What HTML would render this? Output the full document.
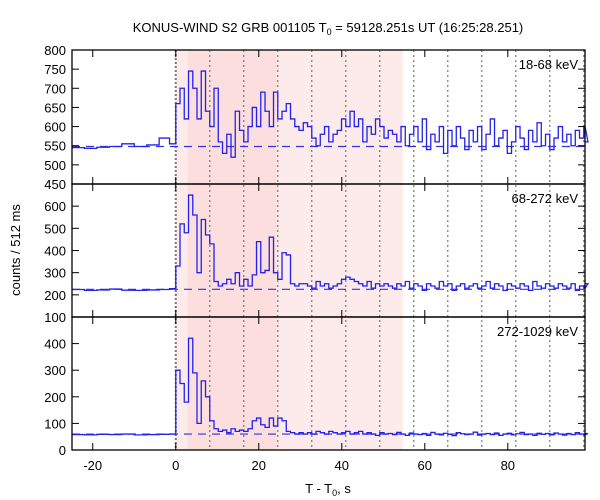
<!DOCTYPE html>
<html><head><meta charset="utf-8"><style>
body{margin:0;background:#fff}
svg{display:block;font-family:"Liberation Sans",sans-serif}
</style></head><body>
<svg id="c" width="600" height="500"></svg>
<script>
const preTimes=[-25,-22,-19,-16,-13,-10,-7,-4,-1.5];
const preTop=[545,543,546,548,555,548,552,570,555];
const preMid=[224,220,222,226,221,220,222,224,228];
const preBot=[58,57,59,58,60,57,58,59,60];
const binWidth=1.024;
const topVals=[660,700,620,745,700,620,745,640,600,700,560,530,580,520,640,590,560,600,650,600,690,640,600,690,620,640,660,620,600,590,610,600,570,550,580,600,560,580,590,620,600,640,600,620,560,600,580,620,600,570,590,580,560,600,550,580,600,560,620,540,580,560,600,530,590,550,600,570,540,590,560,600,540,580,620,550,570,590,530,560,600,570,540,590,560,610,550,580,540,570,600,560,580,550,590,570,600,560];
const midVals=[330,520,480,650,560,300,540,470,430,260,240,250,270,250,300,240,270,240,290,440,300,310,460,300,270,390,380,250,240,250,250,240,230,260,240,250,230,240,250,270,280,270,260,250,240,260,230,250,240,250,240,230,250,240,260,230,250,240,220,250,240,230,260,240,250,220,240,250,230,240,250,230,240,260,230,250,240,220,250,240,230,250,240,220,260,240,230,250,240,230,250,240,230,250,220,240,230,250];
const botVals=[300,250,180,420,290,100,260,200,110,80,70,75,65,80,70,75,70,80,110,120,95,85,120,90,120,110,70,65,60,65,60,65,60,70,65,60,70,65,60,65,70,60,65,70,60,65,60,55,65,60,62,58,66,60,55,64,60,58,62,55,66,60,57,63,59,54,65,61,58,60,67,56,60,62,58,64,55,60,63,57,61,66,58,60,55,63,59,62,57,64,60,56,62,58,65,60,57,62];
const bgLevels=[548,225,60];
const xTicks=[-20,0,20,40,60,80];
const yTicksSets=[[450,500,550,600,650,700,750,800],[100,200,300,400,500,600],[0,100,200,300,400]];
const yLabelSets=[[450,500,550,600,650,700,750,800],[100,200,300,400,500,600],[0,100,200,300,400]];
const panelNames=['18-68 keV','68-272 keV','272-1029 keV'];
const ranges=[[450,800],[100,700],[0,500]];
const X0=72,X1=585,TMIN=-25,TMAX=98.6;
const panelsY=[[50,184],[184,317],[317,450]];
const svg=document.getElementById('c');
const NS='http://www.w3.org/2000/svg';
function el(t,a,p){const e=document.createElementNS(NS,t);for(const k in a)e.setAttribute(k,a[k]);(p||svg).appendChild(e);return e;}
const xs=t=>X0+(t-TMIN)/(TMAX-TMIN)*(X1-X0);
let s1=el('rect',{x:xs(0),y:50,width:xs(54.7)-xs(0),height:400,fill:'#fdeaea'});


let s2=el('rect',{x:xs(2.9),y:50,width:xs(24.3)-xs(2.9),height:400,fill:'#fddede'});


for(let k=1;k*8.192<TMAX;k++){let l=el('line',{x1:xs(k*8.192),x2:xs(k*8.192),y1:50,y2:450,stroke:'#777','stroke-width':1.2,'stroke-dasharray':'2,3'});

}
let l0=el('line',{x1:xs(0),x2:xs(0),y1:50,y2:450,stroke:'#777','stroke-width':2,'stroke-dasharray':'2,2'});


const allVals=[topVals,midVals,botVals],allPre=[preTop,preMid,preBot];
for(let p=0;p<3;p++){
 const [ya,yb]=panelsY[p],[vmin,vmax]=ranges[p];
 const ys=v=>yb-(v-vmin)/(vmax-vmin)*(yb-ya);
 const g=el('g',{});
 
 
 let bl=el('line',{x1:X0,x2:X1,y1:ys(bgLevels[p]),y2:ys(bgLevels[p]),stroke:'#3333dd','stroke-width':1.2,'stroke-dasharray':'8,6'},g);
 
 
 let d='';const pre=allPre[p];
 for(let i=0;i<pre.length;i++){const t0=preTimes[i],t1=i+1<preTimes.length?preTimes[i+1]:0;const y=ys(pre[i]);d+=(i?'L':'M')+xs(t0)+','+y+'L'+xs(t1)+','+y;}
 const v=allVals[p];
 for(let i=0;i<v.length;i++){const t0=i*binWidth,t1=Math.min((i+1)*binWidth,TMAX);const y=ys(v[i]);d+='L'+xs(t0)+','+y+'L'+xs(t1)+','+y;}
 let h=el('path',{d:d,fill:'none',stroke:'#2222ee','stroke-width':1.3},g);
 
 
 el('rect',{x:X0,y:ya,width:X1-X0,height:yb-ya,fill:'none',stroke:'#000','stroke-width':1.3},g);
 for(const t of xTicks){el('line',{x1:xs(t),x2:xs(t),y1:yb,y2:yb-7,stroke:'#000'},g);el('line',{x1:xs(t),x2:xs(t),y1:ya,y2:ya+7,stroke:'#000'},g);}
 for(const t of yTicksSets[p]){const y=ys(t);el('line',{x1:X0,x2:X0+7,y1:y,y2:y,stroke:'#000'},g);el('line',{x1:X1,x2:X1-7,y1:y,y2:y,stroke:'#000'},g);}
 for(const t of yLabelSets[p]){const tx=el('text',{x:66,y:ys(t)+5,'text-anchor':'end','font-size':13},g);tx.textContent=t;
 
 }
 const nm=el('text',{x:578,y:ya+19,'text-anchor':'end','font-size':13},g);nm.textContent=panelNames[p];
 
 
}
for(const t of xTicks){const tx=el('text',{x:xs(t),y:470,'text-anchor':'middle','font-size':13});tx.textContent=t;

}
</script>
<div style="position:absolute;left:0;top:0;width:600px;height:500px;pointer-events:none">
<svg width="600" height="500" style="position:absolute;left:0;top:0">
<text x="328" y="32" text-anchor="middle" font-size="13" font-family="Liberation Sans,sans-serif">KONUS-WIND S2 GRB 001105 T<tspan font-size="9" dy="3">0</tspan><tspan dy="-3"> = 59128.251s UT (16:25:28.251)</tspan></text>
<text x="328" y="493" text-anchor="middle" font-size="13" font-family="Liberation Sans,sans-serif">T - T<tspan font-size="9" dy="3">0</tspan><tspan dy="-3">, s</tspan></text>
<text transform="translate(20,250) rotate(-90)" text-anchor="middle" font-size="13" font-family="Liberation Sans,sans-serif">counts / 512 ms</text>
</svg></div>
</body></html>
